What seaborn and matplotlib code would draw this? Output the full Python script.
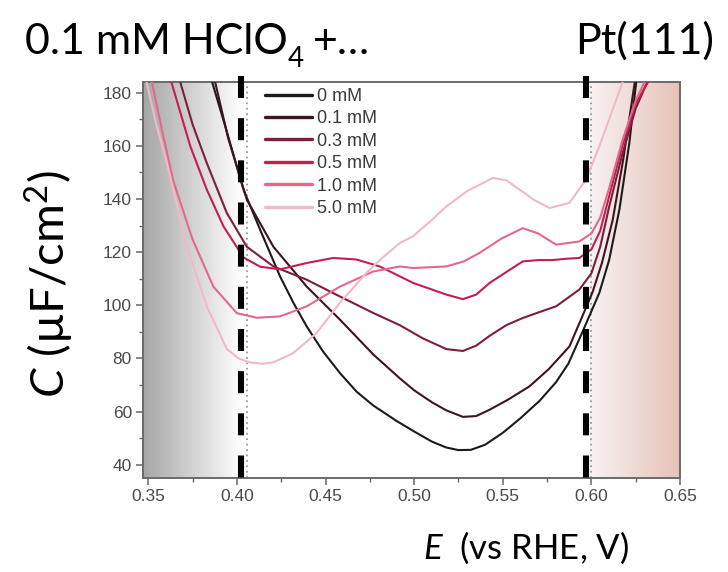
import numpy as np
import pandas as pd
import matplotlib
matplotlib.use("Agg")
import matplotlib.pyplot as plt
from matplotlib.ticker import MultipleLocator
import seaborn as sns

# Capacitance curves of Pt(111) in 0.1 mM HClO4 with added electrolyte
labels = ["0 mM", "0.1 mM", "0.3 mM", "0.5 mM", "1.0 mM", "5.0 mM"]

e_0mM = [0.386, 0.394, 0.4037, 0.4131, 0.4243, 0.4318, 0.4394, 0.4487, 0.4581, 0.4675,
         0.4769, 0.490, 0.500, 0.510, 0.518, 0.525, 0.532, 0.540, 0.550, 0.560,
         0.5707, 0.580, 0.587, 0.595, 0.6045, 0.610, 0.6158, 0.6214, 0.6253]
c_0mM = [184, 166, 143.5, 128.4, 110.9, 101, 92, 82.5, 74.5, 67.5,
         62.3, 56.5, 52.5, 48.7, 46.5, 45.5, 45.6, 47.5, 52, 57.5,
         64, 71, 78, 90, 104.7, 117, 136, 161, 184]

e_01mM = [0.3877, 0.395, 0.4056, 0.4206, 0.4394, 0.4581, 0.4769, 0.4919, 0.500, 0.510,
          0.518, 0.5275, 0.535, 0.5426, 0.553, 0.5651, 0.576, 0.5876, 0.595, 0.6007,
          0.606, 0.612, 0.618, 0.6245]
c_01mM = [184, 163, 139.7, 122, 107, 94.6, 81.5, 72.5, 68, 63.5,
          60.5, 58, 58.3, 60.7, 64.5, 69.5, 76, 84.5, 96, 105,
          116, 132, 155, 184]

e_03mM = [0.368, 0.375, 0.383, 0.3943, 0.4056, 0.4206, 0.4394, 0.4581, 0.4769, 0.4919,
          0.505, 0.5182, 0.5275, 0.535, 0.5426, 0.552, 0.5613, 0.571, 0.5801, 0.5932,
          0.600, 0.605, 0.610, 0.6175, 0.625, 0.6315]
c_03mM = [184, 168, 153.5, 134.7, 122, 114.6, 109.6, 103.3, 97.1, 92.5,
          87.5, 83.5, 82.8, 84.8, 88.5, 92.5, 95.2, 97.5, 99.6, 105.9,
          112, 122, 137, 157, 174, 184]

e_05mM = [0.363, 0.3737, 0.383, 0.3924, 0.4037, 0.4131, 0.4243, 0.4394, 0.4544, 0.4675,
          0.4806, 0.4994, 0.5182, 0.5275, 0.535, 0.5426, 0.552, 0.5613, 0.570, 0.578,
          0.586, 0.5932, 0.600, 0.605, 0.610, 0.6175, 0.625, 0.632]
c_05mM = [184, 159.8, 143.5, 129.7, 118, 114.5, 113.5, 115.9, 117.8, 117.2,
          114.6, 108.4, 104, 102.3, 104, 108.4, 112.5, 116.5, 117, 117,
          117.5, 117.8, 121, 128, 141, 160, 176, 184]

e_1mM = [0.352, 0.358, 0.364, 0.375, 0.3867, 0.400, 0.4112, 0.4243, 0.4394, 0.4581,
         0.4769, 0.4919, 0.4994, 0.5182, 0.528, 0.5369, 0.549, 0.5613, 0.570, 0.5801,
         0.5932, 0.600, 0.605, 0.610, 0.6175, 0.625, 0.630]
c_1mM = [184, 165, 147, 124.7, 107, 97, 95.3, 95.8, 99.6, 107,
         112.7, 114.6, 114, 114.6, 116.5, 119.7, 125, 129, 127, 122.8,
         124, 127, 133, 144, 162, 177, 184]

e_5mM = [0.349, 0.3545, 0.3605, 0.3718, 0.383, 0.3943, 0.401, 0.4074, 0.414, 0.4206,
         0.4318, 0.445, 0.4581, 0.4731, 0.4806, 0.4919, 0.4994, 0.509, 0.5182, 0.530,
         0.5444, 0.552, 0.5595, 0.568, 0.5764, 0.5876, 0.597, 0.6045, 0.612, 0.6176]
c_5mM = [184, 168, 153.5, 122, 99.6, 83.5, 80, 78.5, 78, 78.5,
         82, 89.6, 100.9, 112.2, 117, 123.4, 126, 131.5, 137.2, 143,
         147.9, 147, 143.5, 139.5, 136.6, 138.5, 147.3, 159.8, 173.6, 184]

series_e = [e_0mM, e_01mM, e_03mM, e_05mM, e_1mM, e_5mM]
series_c = [c_0mM, c_01mM, c_03mM, c_05mM, c_1mM, c_5mM]

x_ticks = [0.35, 0.40, 0.45, 0.50, 0.55, 0.60, 0.65]
x_ticklabels = ["0.35", "0.40", "0.45", "0.50", "0.55", "0.60", "0.65"]
y_ticks = [40, 60, 80, 100, 120, 140, 160, 180]

window = [0.4025, 0.597]   # potential window markers

colors = ["#1b1b1b", "#3e1420", "#7c1f3b", "#c21f50", "#e2698a", "#f1b9c8"]

df = pd.concat(
    [pd.DataFrame({"E": e, "C": c, "conc": lab})
     for e, c, lab in zip(series_e, series_c, labels)],
    ignore_index=True,
)

sns.set_theme(style="white")
plt.rcParams["font.family"] = ["Liberation Sans", "DejaVu Sans"]
plt.rcParams["mathtext.fontset"] = "custom"
plt.rcParams["mathtext.rm"] = "Lato"
plt.rcParams["mathtext.it"] = "Lato:italic"
plt.rcParams["mathtext.bf"] = "Lato:bold"

W, H = 728, 572
fig = plt.figure(figsize=(W / 100, H / 100), dpi=100)
ax = fig.add_axes([143 / W, 1 - 478 / H, (680 - 143) / W, (478 - 82) / H])

xlo, xhi, ylo, yhi = 0.347, 0.65, 35, 184

# shaded gradient bands outside the potential window
n = 256
t = np.linspace(0, 1, n)
left_a, left_b = np.array([0.65, 0.65, 0.65]), np.array([1.0, 1.0, 1.0])
grad_l = (left_a[None, :] * (1 - t[:, None]) + left_b[None, :] * t[:, None])[None, :, :]
ax.imshow(grad_l, extent=[xlo, window[0], ylo, yhi], aspect="auto", zorder=0,
          interpolation="bilinear")
right_a, right_b = np.array([0.97, 0.95, 0.95]), np.array([0.90, 0.76, 0.72])
grad_r = (right_a[None, :] * (1 - t[:, None]) + right_b[None, :] * t[:, None])[None, :, :]
ax.imshow(grad_r, extent=[0.599, xhi, ylo, yhi], aspect="auto", zorder=0,
          interpolation="bilinear")

sns.lineplot(data=df, x="E", y="C", hue="conc", palette=dict(zip(labels, colors)),
             sort=False, estimator=None, lw=1.5, ax=ax, zorder=3)

# thin dotted guides and bold dashed window markers
for xv in (0.4055, 0.5995):
    ax.axvline(xv, color="#9a9a9a", lw=1.3, ls=(0, (1, 2)), zorder=2)
for xv in window:
    ax.plot([xv, xv], [186.2, ylo], color="black", lw=4.4,
            dashes=(3.6, 3.3), clip_on=False, zorder=5, solid_capstyle="butt")

ax.set_xlim(xlo, xhi)
ax.set_ylim(ylo, yhi)
ax.set_xticks(x_ticks)
ax.set_xticklabels(x_ticklabels)
ax.set_yticks(y_ticks)
ax.xaxis.set_minor_locator(MultipleLocator(0.025))
ax.yaxis.set_minor_locator(MultipleLocator(10))
ax.tick_params(which="major", direction="out", length=5, width=1.1, color="#666666",
               labelsize=12.5, labelcolor="#4a4a4a", pad=3,
               bottom=True, left=True, top=False, right=False)
ax.tick_params(which="minor", direction="out", length=3, width=1.0, color="#666666",
               bottom=True, left=True, top=False, right=False)
for sp in ax.spines.values():
    sp.set_color("#6a6a6a")
    sp.set_linewidth(1.4)
ax.set_xlabel("")
ax.set_ylabel("")

handles, labs = ax.get_legend_handles_labels()
leg = ax.legend(handles, labs, loc="upper left", bbox_to_anchor=(0.227, 0.985),
                frameon=False, fontsize=13, handlelength=2.6, handletextpad=0.3,
                labelspacing=0.3, borderpad=0, borderaxespad=0)
for txt in leg.get_texts():
    txt.set_color("#3a3a3a")
for ln in leg.get_lines():
    ln.set_linewidth(2.4)

# heading: chemical formula with a lowered subscript
renderer = fig.canvas.get_renderer()
base_y = 1 - 54 / H
h1 = fig.text(25 / W, base_y, "0.1 mM HClO", fontsize=31, family="Lato",
              ha="left", va="baseline", color="black")
bb1 = h1.get_window_extent(renderer)
h2 = fig.text(bb1.x1 / W, base_y - 13 / H, "4", fontsize=20, family="Lato",
              ha="left", va="baseline", color="black")
bb2 = h2.get_window_extent(renderer)
fig.text(bb2.x1 / W + 9 / W, base_y, "+…", fontsize=31, family="Lato",
         ha="left", va="baseline", color="black")
fig.text(714 / W, base_y, "Pt(111)", fontsize=31, family="Lato",
         ha="right", va="baseline", color="black")

# axis titles
fig.text(49 / W, 1 - 284 / H, "$C$ (µF/cm$^2$)", fontsize=34, family="Lato",
         rotation=90, ha="center", va="center", color="black")
fig.text(526 / W, 1 - 548 / H, "$E$  (vs RHE, V)", fontsize=25, family="Lato",
         ha="center", va="center", color="black")

fig.savefig("out.png", dpi=100)
